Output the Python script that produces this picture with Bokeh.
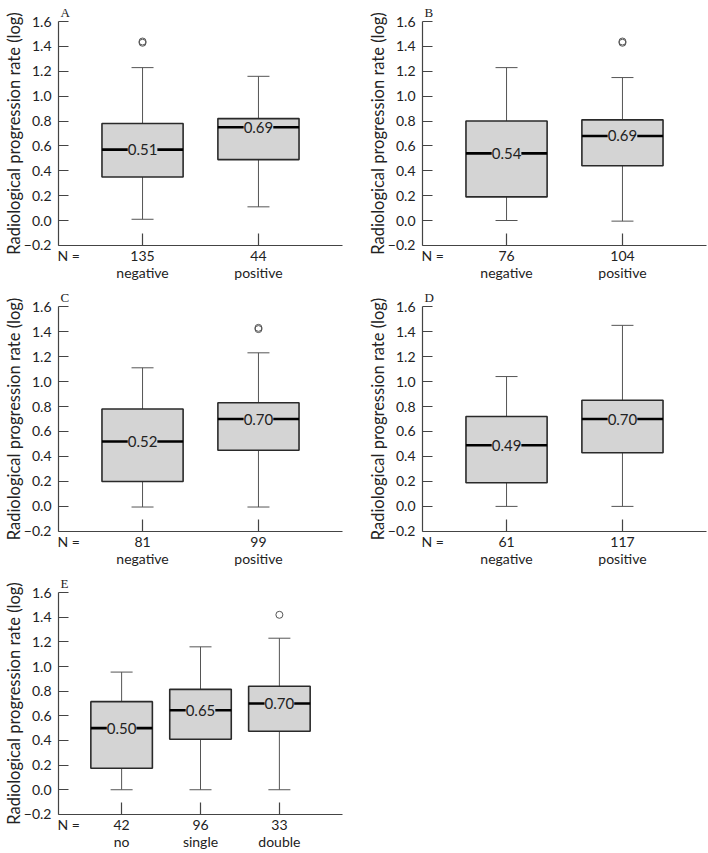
from bokeh.plotting import figure
from bokeh.models import ColumnDataSource, LinearAxis, FixedTicker, LabelSet, Range1d
from bokeh.core.properties import value
from bokeh.layouts import column, row
from bokeh.embed import file_html
from bokeh.resources import INLINE

# ---------------- data ----------------
Y_LABEL = "Radiological progression rate (log)"
Y_TICKS = [-0.2, 0.0, 0.2, 0.4, 0.6, 0.8, 1.0, 1.2, 1.4, 1.6]
Y_TICK_LABELS = ["\u22120.2", "0.0", "0.2", "0.4", "0.6", "0.8", "1.0", "1.2", "1.4", "1.6"]
N_LABEL = "N ="

# Panel A
a_groups = ["negative", "positive"]
a_counts = ["135", "44"]
a_whisker_low = [0.01, 0.11]
a_q1 = [0.35, 0.49]
a_median = [0.57, 0.75]
a_q3 = [0.78, 0.82]
a_whisker_high = [1.23, 1.16]
a_median_text = ["0.51", "0.69"]
a_outlier_group = [0, 0]
a_outlier_value = [1.43, 1.44]

# Panel B
b_groups = ["negative", "positive"]
b_counts = ["76", "104"]
b_whisker_low = [0.0, -0.005]
b_q1 = [0.19, 0.44]
b_median = [0.54, 0.68]
b_q3 = [0.80, 0.81]
b_whisker_high = [1.23, 1.15]
b_median_text = ["0.54", "0.69"]
b_outlier_group = [1, 1]
b_outlier_value = [1.43, 1.44]

# Panel C
c_groups = ["negative", "positive"]
c_counts = ["81", "99"]
c_whisker_low = [-0.005, -0.005]
c_q1 = [0.20, 0.45]
c_median = [0.52, 0.70]
c_q3 = [0.78, 0.83]
c_whisker_high = [1.11, 1.23]
c_median_text = ["0.52", "0.70"]
c_outlier_group = [1, 1]
c_outlier_value = [1.42, 1.43]

# Panel D
d_groups = ["negative", "positive"]
d_counts = ["61", "117"]
d_whisker_low = [0.0, 0.0]
d_q1 = [0.19, 0.43]
d_median = [0.49, 0.70]
d_q3 = [0.72, 0.85]
d_whisker_high = [1.04, 1.45]
d_median_text = ["0.49", "0.70"]
d_outlier_group = []
d_outlier_value = []

# Panel E
e_groups = ["no", "single", "double"]
e_counts = ["42", "96", "33"]
e_whisker_low = [0.0, 0.0, 0.0]
e_q1 = [0.175, 0.41, 0.475]
e_median = [0.50, 0.645, 0.70]
e_q3 = [0.715, 0.815, 0.84]
e_whisker_high = [0.955, 1.16, 1.23]
e_median_text = ["0.50", "0.65", "0.70"]
e_outlier_group = [2]
e_outlier_value = [1.42]

# ---------------- style ----------------
FONT = "Lato"
TEXT = "#222222"
AXIS = "#444444"
BOX_FILL = "#d4d4d4"
BOX_LINE = "#2a2a2a"
WHISKER = "#555555"


def panel(letter, groups, counts, low, q1, med, q3, high, med_text, out_idx, out_val,
          width, height, top, bottom, left, right, x_pad, box_w):
    n = len(groups)
    xs = [i + 1 for i in range(n)]
    x0, x1 = 1 - x_pad, n + x_pad
    frame_w = width - left - right
    p = figure(width=width, height=height,
               x_range=Range1d(x0, x1), y_range=Range1d(-0.201, 1.601),
               output_backend="svg", toolbar_location=None,
               x_axis_location=None, y_axis_location=None,
               min_border_left=left, min_border_right=right,
               min_border_top=top, min_border_bottom=bottom)
    p.outline_line_color = None
    p.grid.grid_line_color = None
    p.background_fill_color = "white"
    p.border_fill_color = "white"

    # panel letter as title
    p.title.text = letter
    p.title.align = "left"
    p.title.offset = 2
    p.title.standoff = 4
    p.title.text_font = "Liberation Serif"
    p.title.text_font_size = "13px"
    p.title.text_font_style = "normal"
    p.title.text_color = TEXT

    # y axis
    yax = LinearAxis(ticker=FixedTicker(ticks=Y_TICKS, minor_ticks=[]),
                     major_label_overrides=dict(zip(Y_TICKS, Y_TICK_LABELS)),
                     axis_label=Y_LABEL)
    yax.axis_line_color = AXIS
    yax.axis_line_width = 1.2
    yax.major_tick_line_color = AXIS
    yax.major_tick_line_width = 1.2
    yax.major_tick_in = 10
    yax.major_tick_out = 0
    yax.minor_tick_line_color = None
    yax.major_label_standoff = 7
    yax.major_label_text_font = FONT
    yax.major_label_text_font_size = "14px"
    yax.major_label_text_color = TEXT
    yax.axis_label_standoff = -3
    yax.axis_label_text_font = FONT
    yax.axis_label_text_font_size = "16.5px"
    yax.axis_label_text_font_style = "normal"
    yax.axis_label_text_color = TEXT
    p.add_layout(yax, "left")

    # x axis: counts with "N =" and inward category ticks
    n_pos = x0 + 10.5 / (frame_w / (x1 - x0))
    overrides = {n_pos: N_LABEL}
    for x, c in zip(xs, counts):
        overrides[x] = c
    xax = LinearAxis(ticker=FixedTicker(ticks=[n_pos] + xs, minor_ticks=xs),
                     major_label_overrides=overrides)
    xax.axis_line_color = AXIS
    xax.axis_line_width = 1.2
    xax.major_tick_line_color = None
    xax.minor_tick_line_color = AXIS
    xax.minor_tick_line_width = 1.2
    xax.minor_tick_in = 12
    xax.minor_tick_out = 0
    xax.major_tick_in = 0
    xax.major_tick_out = 0
    xax.major_label_standoff = 1
    xax.major_label_text_font = FONT
    xax.major_label_text_font_size = "14px"
    xax.major_label_text_color = TEXT
    p.add_layout(xax, "below")

    # second x axis: group names
    xax2 = LinearAxis(ticker=FixedTicker(ticks=xs, minor_ticks=[]),
                      major_label_overrides=dict(zip(xs, groups)))
    xax2.axis_line_color = None
    xax2.major_tick_line_color = None
    xax2.minor_tick_line_color = None
    xax2.major_tick_in = 0
    xax2.major_tick_out = 0
    xax2.major_label_standoff = -3
    xax2.major_label_text_font = FONT
    xax2.major_label_text_font_size = "14px"
    xax2.major_label_text_color = TEXT
    p.add_layout(xax2, "below")

    src = ColumnDataSource(dict(x=xs, low=low, q1=q1, med=med, q3=q3, high=high,
                                left=[x - box_w / 2 for x in xs],
                                right=[x + box_w / 2 for x in xs],
                                text=med_text))
    # whiskers
    p.segment(x0="x", y0="q3", x1="x", y1="high", source=src, line_color=WHISKER, line_width=1)
    p.segment(x0="x", y0="low", x1="x", y1="q1", source=src, line_color=WHISKER, line_width=1)
    p.scatter(x="x", y="high", source=src, marker="dash", size=22, line_color=WHISKER, line_width=1)
    p.scatter(x="x", y="low", source=src, marker="dash", size=22, line_color=WHISKER, line_width=1)
    # boxes
    p.vbar(x="x", width=box_w, bottom="q1", top="q3", source=src,
           fill_color=BOX_FILL, line_color=BOX_LINE, line_width=1.6)
    # medians
    p.segment(x0="left", y0="med", x1="right", y1="med", source=src,
              line_color="black", line_width=2.6)
    labels = LabelSet(x="x", y="med", text="text", source=src,
                      text_align="center", text_baseline="middle",
                      text_font=value(FONT), text_font_size=value("15px"),
                      text_color=TEXT, background_fill_color=BOX_FILL)
    p.add_layout(labels)
    # outliers
    if out_idx:
        osrc = ColumnDataSource(dict(x=[xs[i] for i in out_idx], y=out_val))
        p.scatter(x="x", y="y", source=osrc, marker="circle", size=7,
                  fill_color=None, line_color=WHISKER, line_width=1)
    return p


W_L, W_R = 364, 343
LEFT = 52
FRAME_W = 290
X_PAD2 = 0.725
BOX_W2 = 0.70

pa = panel("A", a_groups, a_counts, a_whisker_low, a_q1, a_median, a_q3, a_whisker_high,
           a_median_text, a_outlier_group, a_outlier_value,
           W_L, 285, 19, 40, LEFT, W_L - LEFT - FRAME_W, X_PAD2, BOX_W2)
pb = panel("B", b_groups, b_counts, b_whisker_low, b_q1, b_median, b_q3, b_whisker_high,
           b_median_text, b_outlier_group, b_outlier_value,
           W_R, 285, 19, 40, LEFT, W_R - LEFT - FRAME_W, X_PAD2, BOX_W2)
pc = panel("C", c_groups, c_counts, c_whisker_low, c_q1, c_median, c_q3, c_whisker_high,
           c_median_text, c_outlier_group, c_outlier_value,
           W_L, 286, 20, 40, LEFT, W_L - LEFT - FRAME_W, X_PAD2, BOX_W2)
pd_ = panel("D", d_groups, d_counts, d_whisker_low, d_q1, d_median, d_q3, d_whisker_high,
            d_median_text, d_outlier_group, d_outlier_value,
            W_R, 286, 20, 40, LEFT, W_R - LEFT - FRAME_W, X_PAD2, BOX_W2)
pe = panel("E", e_groups, e_counts, e_whisker_low, e_q1, e_median, e_q3, e_whisker_high,
           e_median_text, e_outlier_group, e_outlier_value,
           W_L, 281, 19, 36, LEFT, W_L - LEFT - FRAME_W, 0.8, 0.78)

layout = column(row(pa, pb), row(pc, pd_), row(pe))
open("out.html", "w").write(file_html(layout, INLINE))
